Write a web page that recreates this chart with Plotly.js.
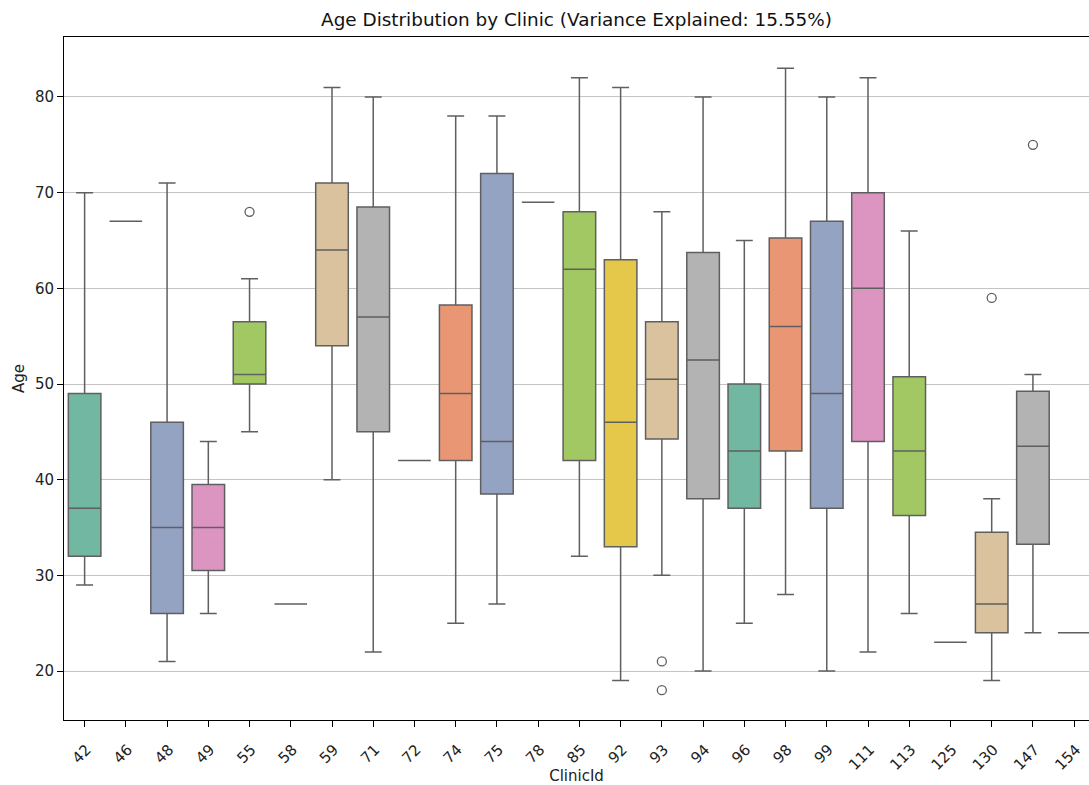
<!DOCTYPE html>
<html>
<head>
<meta charset="utf-8">
<script src="https://cdn.plot.ly/plotly-3.0.1.min.js"></script>
<style>html,body{margin:0;padding:0;background:#fff;}#chart{width:1089px;height:785px;}</style>
</head>
<body>
<div id="chart"></div>
<script>
const clinics = ["42","46","48","49","55","58","59","71","72","74","75","78","85","92","93","94","96","98","99","111","113","125","130","147","154"];
const lowerWhisker = [29,67,21,26,45,27,40,22,42,25,27,69,32,19,30,20,25,28,20,22,26,23,19,24,24];
const q1Values     = [32,67,26,30.5,50,27,54,45,42,42,38.5,69,42,33,44.25,38,37,43,37,44,36.25,23,24,33.25,24];
const medianValues = [37,67,35,35,51,27,64,57,42,49,44,69,62,46,50.5,52.5,43,56,49,60,43,23,27,43.5,24];
const q3Values     = [49,67,46,39.5,56.5,27,71,68.5,42,58.25,72,69,68,63,56.5,63.75,50,65.25,67,70,50.75,23,34.5,49.25,24];
const upperWhisker = [70,67,71,44,61,27,81,80,42,78,78,69,82,81,68,80,65,83,80,82,66,23,38,51,24];
const outlierClinics = ["55","93","93","130","147"];
const outlierAges    = [68,21,18,59,75];
const palette = ["#71b7a1","#e99675","#95a3c3","#db95c0","#a2c864","#e5c849","#dbc29e","#b3b3b3"];

const lineColor = "#5f5f5f";
const traces = clinics.map((c, i) => ({
  type: "box",
  x: [c],
  q1: [q1Values[i]],
  median: [medianValues[i]],
  q3: [q3Values[i]],
  lowerfence: [lowerWhisker[i]],
  upperfence: [upperWhisker[i]],
  fillcolor: palette[i % palette.length],
  line: {color: lineColor, width: 1.5},
  width: 0.79,
  whiskerwidth: 0.52,
  boxpoints: false,
  hoverinfo: "skip",
  showlegend: false
}));
traces.push({
  type: "scatter",
  mode: "markers",
  x: outlierClinics,
  y: outlierAges,
  marker: {symbol: "circle-open", size: 9, color: lineColor, line: {width: 1.3, color: lineColor}},
  showlegend: false,
  hoverinfo: "skip"
});

const layout = {
  width: 1089, height: 785,
  margin: {l: 64, r: 0, t: 37, b: 65},
  paper_bgcolor: "#fff", plot_bgcolor: "#fff",
  font: {family: "DejaVu Sans, sans-serif", size: 15, color: "#222"},
  title: {text: "Age Distribution by Clinic (Variance Explained: 15.55%)", x: 0.5, xref: "paper", y: 0.983, yref: "container", font: {size: 18.4, color: "#111"}},
  boxmode: "overlay",
  xaxis: {
    type: "category",
    categoryorder: "array", categoryarray: clinics,
    range: [-0.5, 24.36],
    showgrid: false, zeroline: false,
    showline: true, linecolor: "#000", linewidth: 1, mirror: true,
    ticks: "outside", ticklen: 6, tickcolor: "#000", tickwidth: 1,
    tickangle: -45,
    ticklabelshift: 2, ticklabelstandoff: 8,
    tickfont: {size: 15, color: "#222"},
    title: {text: "ClinicId", font: {size: 15, color: "#222"}, standoff: 5}
  },
  yaxis: {
    range: [14.88, 86.27],
    tickvals: [20,30,40,50,60,70,80],
    showgrid: true, gridcolor: "#c4c4c4", gridwidth: 1,
    zeroline: false,
    showline: true, linecolor: "#000", linewidth: 1,
    ticks: "outside", ticklen: 6, tickcolor: "#000", tickwidth: 1,
    tickfont: {size: 15, color: "#222"},
    title: {text: "Age", font: {size: 15, color: "#222"}, standoff: 6}
  }
};
Plotly.newPlot("chart", traces, layout, {staticPlot: true, displayModeBar: false});
</script>
</body>
</html>
